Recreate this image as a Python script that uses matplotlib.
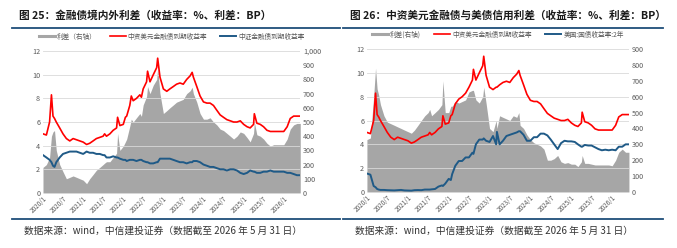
import pandas as pd
import matplotlib.pyplot as plt
import numpy as np
from matplotlib.lines import Line2D
from matplotlib.ticker import FuncFormatter

plt.rcParams["font.family"] = ["Noto Sans CJK SC", "DejaVu Sans"]

RED = "#ff0000"
BLUE = "#1f5a87"
GRAY = "#a6a6a6"
DARK = "#1f4e79"
TICK = "#595959"

# monthly values, 2020/1 .. 2026/5
MONTHS = pd.date_range("2020-01-01", "2026-05-01", freq="MS")

usd_fin_yield = [
    5.0, 4.9, 6.0, 6.5, 6.0, 5.5, 5.0, 4.6, 4.4, 4.6, 4.5, 4.4,
    4.3, 4.1, 4.2, 4.4, 4.6, 4.7, 4.8, 4.8, 5.0, 5.3, 5.5, 5.7,
    5.8, 6.5, 7.4, 7.8, 8.0, 8.3, 8.8, 9.4, 9.4, 10.0, 10.6, 9.8,
    8.8, 8.6, 8.8, 9.0, 9.2, 9.3, 9.2, 9.6, 9.9, 9.8, 9.0, 8.2,
    7.7, 7.6, 7.6, 7.4, 7.0, 6.6, 6.4, 6.2, 6.1, 6.0, 6.0, 6.1,
    5.8, 5.6, 5.5, 5.8, 5.9, 5.8, 5.6, 5.3, 5.2, 5.2, 5.2, 5.2,
    5.2, 5.6, 6.3, 6.5, 6.5,
]

cn_fin_yield = [
    3.2, 3.0, 2.8, 2.3, 2.6, 3.0, 3.3, 3.4, 3.5, 3.5, 3.5, 3.4,
    3.3, 3.5, 3.4, 3.4, 3.3, 3.3, 3.2, 3.0, 3.0, 3.1, 3.0, 2.9,
    2.8, 2.7, 2.8, 2.8, 2.7, 2.8, 2.7, 2.6, 2.5, 2.5, 2.6, 2.9,
    2.9, 2.9, 2.9, 2.8, 2.7, 2.6, 2.6, 2.5, 2.6, 2.7, 2.7, 2.6,
    2.4, 2.3, 2.2, 2.2, 2.1, 2.0, 2.0, 1.9, 2.0, 2.0, 1.9, 1.7,
    1.6, 1.7, 1.9, 1.8, 1.7, 1.7, 1.8, 1.8, 1.9, 1.8, 1.8, 1.8,
    1.8, 1.7, 1.7, 1.6, 1.5,
]

spread_in_out = [
    180, 200, 250, 430, 300, 200, 150, 100, 110, 120, 110, 100,
    90, 65, 100, 130, 160, 180, 200, 220, 220, 250, 280, 300,
    330, 380, 470, 500, 530, 560, 620, 680, 700, 760, 800, 700,
    560, 580, 600, 620, 640, 650, 660, 700, 720, 700, 640, 560,
    520, 520, 530, 500, 480, 450, 440, 420, 400, 380, 400, 430,
    420, 390, 360, 420, 410, 400, 380, 350, 330, 340, 340, 340,
    340, 380, 450, 480, 490,
]

us_2y = [
    1.55, 1.45, 0.5, 0.25, 0.17, 0.17, 0.15, 0.14, 0.13, 0.15, 0.17, 0.13,
    0.12, 0.11, 0.15, 0.16, 0.15, 0.2, 0.2, 0.22, 0.25, 0.45, 0.55, 0.7,
    1.1, 1.5, 2.2, 2.6, 2.6, 2.9, 2.9, 3.3, 4.0, 4.4, 4.4, 4.3,
    4.2, 4.7, 4.0, 4.0, 4.3, 4.7, 4.8, 4.9, 5.0, 5.1, 4.8, 4.3,
    4.3, 4.6, 4.6, 4.9, 4.9, 4.75, 4.4, 4.0, 3.6, 4.1, 4.3, 4.25,
    4.25, 4.2, 4.0, 3.8, 3.95, 3.9, 3.9, 3.75, 3.6, 3.5, 3.55, 3.5,
    3.55, 3.5, 3.8, 3.8, 4.0,
]

spread_credit = [
    330, 340, 600, 650, 550, 480, 440, 430, 420, 410, 400, 390,
    380, 370, 390, 420, 450, 480, 500, 480, 500, 520, 550, 500,
    500, 540, 570, 560, 570, 580, 630, 640, 580, 560, 600, 560,
    400, 380, 450, 480, 470, 460, 450, 480, 470, 420, 400, 360,
    330, 310, 300, 290, 270, 200, 200, 210, 230, 190, 180, 185,
    175, 175, 160, 190, 180, 180, 175, 170, 170, 170, 170, 170,
    165, 200, 250, 270, 250,
]

# short spikes between month starts: date, usd yield, local yield, spread
spikes_left = pd.DataFrame({
    "date": ["2020-03-18", "2020-04-15", "2021-07-15", "2021-11-10",
             "2022-01-20", "2022-03-15", "2022-06-15", "2022-08-10",
             "2022-11-10", "2023-09-20", "2025-04-08"],
    "usd": [8.3, 6.3, 5.0, 6.4, 6.4, 8.2, 8.1, 10.3, 11.4, 10.2, 6.7],
    "local": [2.6, 2.2, 3.2, 3.0, 2.8, 2.8, 2.8, 2.6, 2.6, 2.6, 1.8],
    "spread": [400, 440, 210, 420, 360, 520, 540, 750, 880, 745, 500],
})

spikes_right = pd.DataFrame({
    "date": ["2020-03-18", "2020-04-15", "2021-07-15", "2021-11-10",
             "2022-01-20", "2022-08-10", "2022-11-10", "2023-03-08",
             "2023-09-20", "2025-04-08"],
    "usd": [8.3, 6.3, 5.0, 6.4, 6.4, 10.3, 11.4, 8.8, 10.2, 6.7],
    "local": [0.4, 0.2, 0.2, 0.5, 1.0, 3.2, 4.5, 5.05, 5.1, 3.8],
    "spread": [780, 610, 520, 700, 540, 640, 660, 400, 500, 230],
})

XTICKS = pd.date_range("2020-01-01", "2026-01-01", freq="6MS")


def build(local, spread, spikes):
    df = pd.DataFrame({"date": MONTHS, "usd": usd_fin_yield,
                       "local": local, "spread": spread})
    sp = spikes.copy()
    sp["date"] = pd.to_datetime(sp["date"])
    df = pd.concat([df, sp]).sort_values("date").reset_index(drop=True)
    end = df.iloc[[-1]].copy()
    end["date"] = pd.Timestamp("2026-05-31")
    return pd.concat([df, end]).reset_index(drop=True)


def draw_panel(rect, df, ymax_r, rticks, labels, title, tx0, tx1):
    ax = fig.add_axes(rect)
    ax2 = ax.twinx()
    ax2.fill_between(df["date"], 0, df["spread"], color=GRAY, lw=0)
    ax2.set_ylim(0, ymax_r)
    ax2.set_yticks(rticks)
    ax2.yaxis.set_major_formatter(FuncFormatter(lambda v, p: f"{int(v):,}"))
    ax.set_zorder(ax2.get_zorder() + 1)
    ax.patch.set_visible(False)

    ax.plot(df["date"], df["usd"], color=RED, lw=1.2)
    ax.plot(df["date"], df["local"], color=BLUE, lw=1.4)
    ax.set_ylim(0, 12)
    ax.set_yticks(range(0, 13, 2))
    ax.set_xlim(pd.Timestamp("2020-01-01"), pd.Timestamp("2026-05-31"))
    ax.set_xticks(XTICKS)
    ax.set_xticklabels([f"{d.year}/{d.month}" for d in XTICKS],
                       rotation=45, ha="right", rotation_mode="anchor")
    ax.grid(axis="y", color="#d9d9d9", lw=0.6)

    for a in (ax, ax2):
        for s in a.spines.values():
            s.set_visible(False)
        a.tick_params(length=0, labelsize=5.2, colors=TICK, pad=2)
    ax.tick_params(axis="x", labelsize=4.6, pad=1)

    handles = [Line2D([], [], color=GRAY, lw=2.2),
               Line2D([], [], color=RED, lw=1.2),
               Line2D([], [], color=BLUE, lw=1.4)]
    ax.legend(handles, labels, loc="lower center", bbox_to_anchor=(0.5, 1.05),
              ncol=3, frameon=False, fontsize=4.8, labelcolor=TICK,
              handlelength=2.4, columnspacing=2.0, handletextpad=0.3,
              borderpad=0)

    fig.text(tx0 + 0.010, 0.937, title, fontsize=7.7, fontweight="bold",
             va="center", ha="left", color="#1a1a1a")
    fig.add_artist(Line2D([tx0, tx1], [0.889, 0.889], color=DARK, lw=1.3))
    fig.add_artist(Line2D([tx0, tx1], [0.117, 0.117], color=DARK, lw=1.3))
    fig.text(tx0 + 0.018, 0.068,
             "数据来源：wind，中信建投证券（数据截至 2026 年 5 月 31 日）",
             fontsize=7, va="center", ha="left", color="#333333",
             fontstyle="italic")


fig = plt.figure(figsize=(6.77, 2.48), dpi=100)

left_df = build(cn_fin_yield, spread_in_out, spikes_left)
right_df = build(us_2y, spread_credit, spikes_right)

draw_panel([0.0635, 0.222, 0.380, 0.572], left_df, 1000, range(0, 1001, 100),
           ["利差（右轴）", "中资美元金融债到期收益率", "中证金融债到期收益率"],
           "图 25：金融债境内外利差（收益率：%、利差：BP）", 0.018, 0.502)
draw_panel([0.542, 0.226, 0.387, 0.576], right_df, 900, range(0, 901, 100),
           ["利差(右轴)", "中资美元金融债到期收益率", "美国:国债收益率:2年"],
           "图 26：中资美元金融债与美债信用利差（收益率：%、利差：BP）", 0.507, 0.980)

fig.savefig("out.png", dpi=100)
